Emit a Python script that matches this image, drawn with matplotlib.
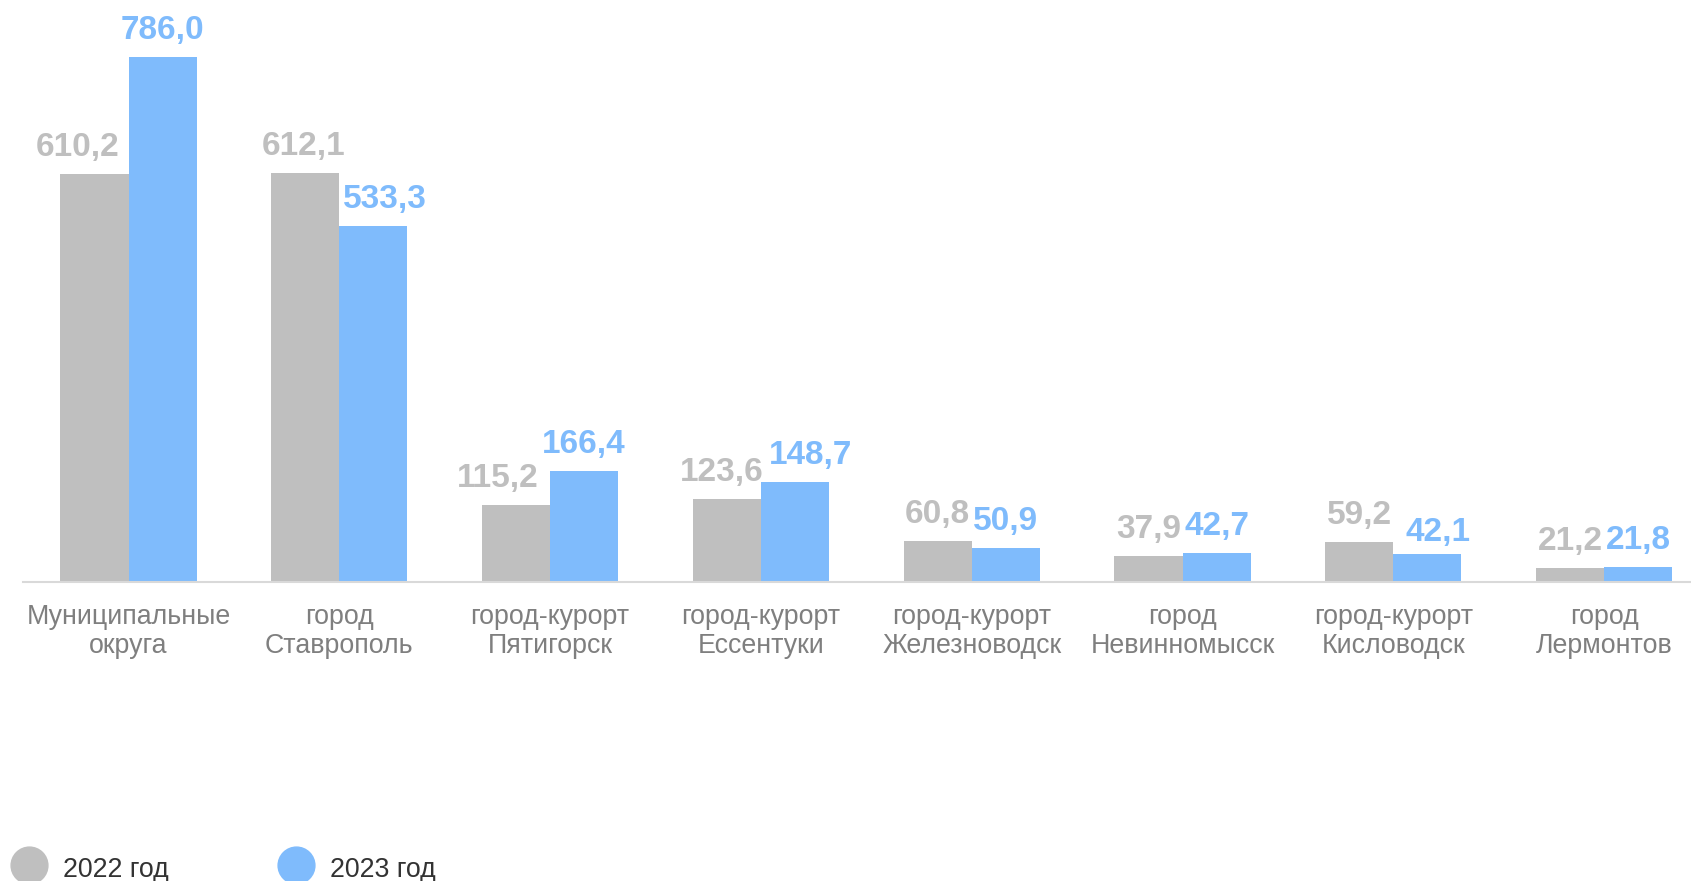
import matplotlib.pyplot as plt
from matplotlib.lines import Line2D
import numpy as np

plt.rcParams['font.family'] = ['Liberation Sans', 'DejaVu Sans']

categories = ["Муниципальные\nокруга", "город\nСтаврополь", "город-курорт\nПятигорск",
              "город-курорт\nЕссентуки", "город-курорт\nЖелезноводск", "город\nНевинномысск",
              "город-курорт\nКисловодск", "город\nЛермонтов"]
values_2022 = [610.2, 612.1, 115.2, 123.6, 60.8, 37.9, 59.2, 21.2]
values_2023 = [786.0, 533.3, 166.4, 148.7, 50.9, 42.7, 42.1, 21.8]
series_names = ["2022 год", "2023 год"]

gray = '#bfbfbf'
blue = '#7fbbfc'

# label nudges (pixels) so neighbouring numbers don't collide
shift_2022 = [-17, -2, -18, -5, 0, 0, 0, 0]
shift_2023 = [0, 12, 0, 16, 0, 0, 11, 0]
lift_2023 = [18, 18, 18, 18, 18, 18, 13, 18]

W, H = 1691, 881
fig = plt.figure(figsize=(W / 100, H / 100), dpi=100)
ax = fig.add_axes([23 / W, (H - 581.7) / H, (W - 23) / W, 581.7 / H])

x = np.arange(len(categories))
bw = 0.323
ax.bar(x - bw / 2, values_2022, bw, color=gray)
ax.bar(x + bw / 2, values_2023, bw, color=blue)

def fmt(v):
    return f"{v:.1f}".replace('.', ',')

for i in range(len(x)):
    ax.annotate(fmt(values_2022[i]), (x[i] - bw / 2, values_2022[i]),
                xytext=(shift_2022[i], 18), textcoords='offset pixels',
                ha='center', va='baseline', fontsize=24, fontweight='bold', color=gray)
    ax.annotate(fmt(values_2023[i]), (x[i] + bw / 2, values_2023[i]),
                xytext=(shift_2023[i], lift_2023[i]), textcoords='offset pixels',
                ha='center', va='baseline', fontsize=24, fontweight='bold', color=blue)

ax.set_xlim(-0.5005, 7.412)
ax.set_ylim(0, 871)
ax.set_xticks(x)
ax.set_xticklabels(categories, fontsize=19.3, color='#7f7f7f', linespacing=1.15)
ax.tick_params(axis='x', length=0, pad=16)
ax.set_yticks([])
for s in ['top', 'left', 'right']:
    ax.spines[s].set_visible(False)
ax.spines['bottom'].set_color('#d9d9d9')
ax.spines['bottom'].set_linewidth(1.5)

# legend along the bottom edge
legend_x = [28.5, 296]
for lx, name, c in zip(legend_x, series_names, [gray, blue]):
    fig.add_artist(Line2D([lx / W], [(H - 865) / H], marker='o', markersize=26.5,
                          color=c, linestyle='none', transform=fig.transFigure))
    fig.text((lx + 34.5) / W, (H - 877) / H, name, fontsize=19.3, color='#333333',
             ha='left', va='baseline')

fig.savefig('out.png', dpi=100)
